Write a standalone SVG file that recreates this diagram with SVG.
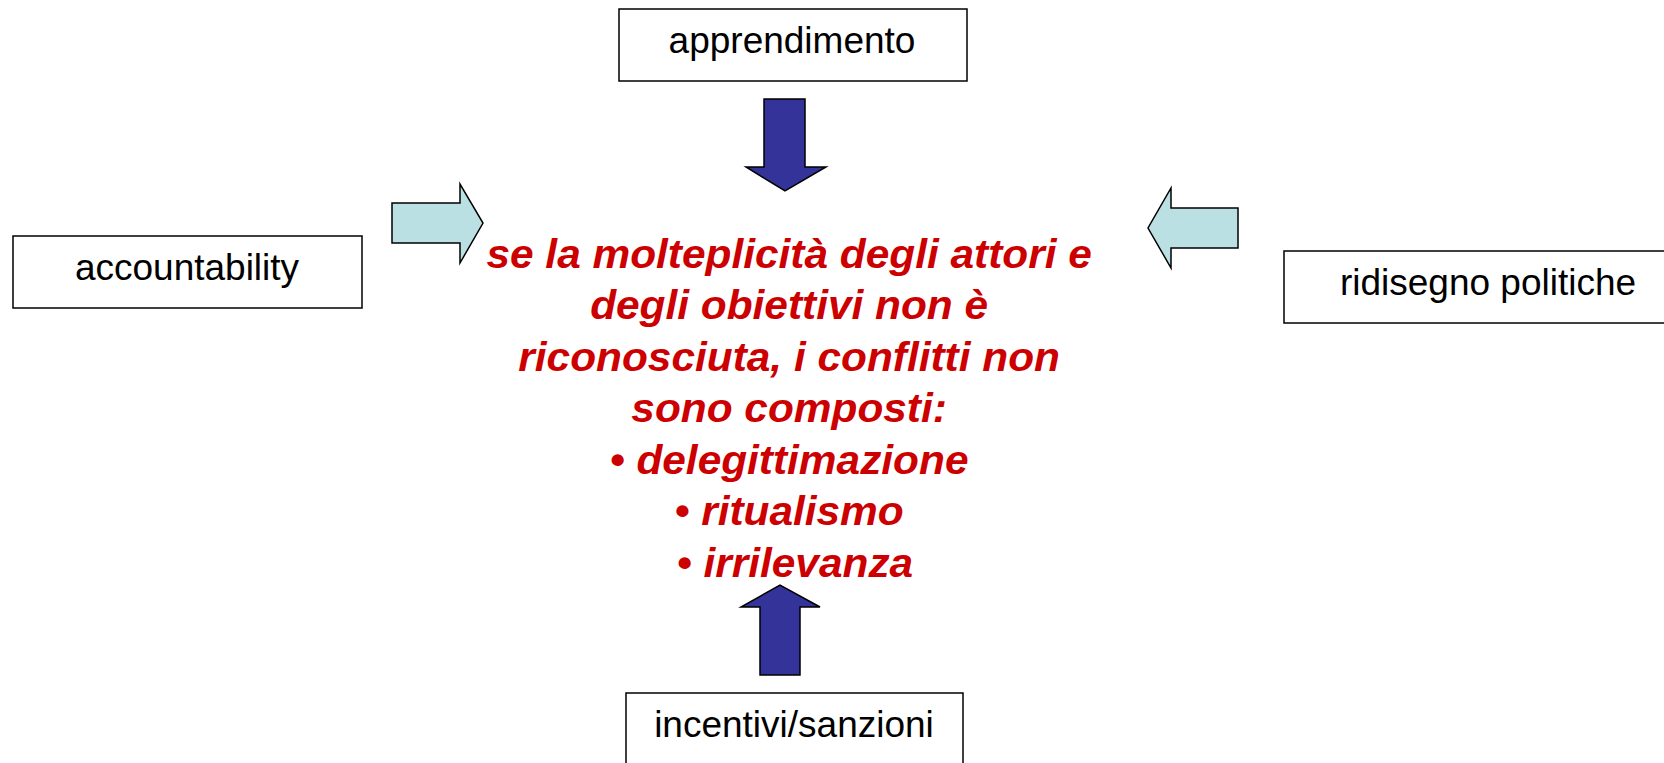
<svg xmlns="http://www.w3.org/2000/svg" width="1664" height="763" viewBox="0 0 1664 763">
<style>
.box{fill:#ffffff;stroke:#000000;stroke-width:1.5}
.lbl{font-family:"Liberation Sans",Arial,sans-serif;font-size:37px;fill:#000000;text-anchor:middle}
.main{font-family:"Liberation Sans",Arial,sans-serif;font-size:40px;font-weight:bold;font-style:italic;fill:#CC0000;text-anchor:middle}
.dark{fill:#333399;stroke:#000000;stroke-width:1.5;stroke-linejoin:miter}
.light{fill:#BBE0E3;stroke:#000000;stroke-width:1.5;stroke-linejoin:miter}
</style>
<rect x="0" y="0" width="1664" height="763" fill="#ffffff"/>
<g id="apprendimento">
<rect class="box" x="619" y="9" width="348" height="72"/>
<text class="lbl" x="792" y="53">apprendimento</text>
</g>
<g id="accountability">
<rect class="box" x="13" y="236" width="349" height="72"/>
<text class="lbl" x="187" y="280">accountability</text>
</g>
<g id="ridisegno">
<rect class="box" x="1284" y="251" width="400" height="72"/>
<text class="lbl" x="1488" y="295">ridisegno politiche</text>
</g>
<g id="incentivi">
<rect class="box" x="626" y="693" width="337" height="90"/>
<text class="lbl" x="794" y="737">incentivi/sanzioni</text>
</g>
<g id="centro">
<text class="main" transform="translate(795,0) scale(1.06,1)">
<tspan x="0" y="268">se la molteplicità degli attori e</tspan>
<tspan x="0" y="319.5">degli obiettivi non è</tspan>
<tspan x="0" y="371">riconosciuta, i conflitti non</tspan>
<tspan x="0" y="422.5">sono composti:</tspan>
<tspan x="0" y="474">• delegittimazione</tspan>
<tspan x="0" y="525.5">• ritualismo</tspan>
<tspan x="0" y="577">• irrilevanza</tspan>
</text>
</g>
<g id="connectors">
<polygon class="dark" points="764,99 805,99 805,167 826,167 785,191 746,167 764,167"/>
<polygon class="light" points="392,203 460,203 460,184 483,223 460,263 460,243 392,243"/>
<polygon class="light" points="1238,208 1171,208 1171,188 1148,228 1171,268 1171,248 1238,248"/>
<polygon class="dark" points="760,675 800,675 800,607 820,607 780,585 741,607 760,607"/>
</g>
</svg>
